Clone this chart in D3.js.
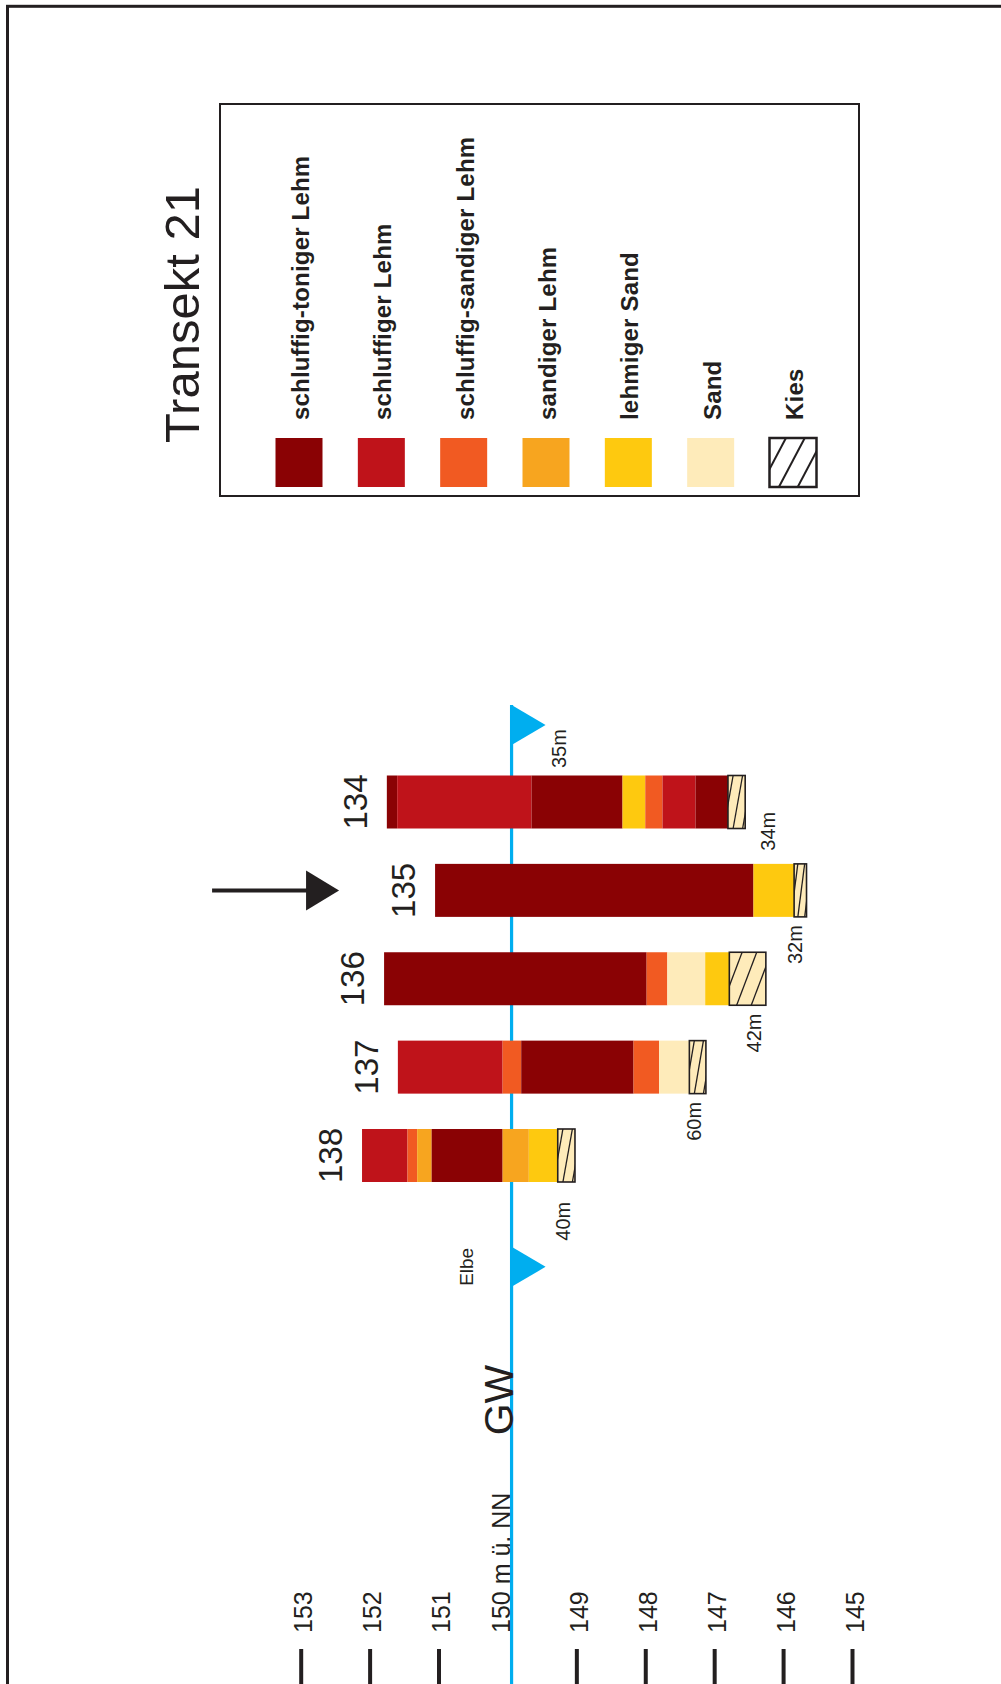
<!DOCTYPE html>
<html><head><meta charset="utf-8">
<script src="https://cdn.jsdelivr.net/npm/d3@7"></script>
<style>html,body{margin:0;padding:0;background:#fff;} svg{display:block;}</style>
</head><body><svg id="chart" width="1001" height="1684"></svg>
<script>
// ---------- data ----------
const title = "Transekt 21";
const soilCodes = ["stL", "sL", "ssL", "sdL", "lS", "S", "G"];
const soilNames = ["schluffig-toniger Lehm", "schluffiger Lehm", "schluffig-sandiger Lehm",
                   "sandiger Lehm", "lehmiger Sand", "Sand", "Kies"];
const soilColors = ["#8A0204", "#BF131A", "#F15A22", "#F7A51F", "#FEC90F", "#FEEBBA", "#FEEBBA"];

const boreholes = ["134", "135", "136", "137", "138"];
const boreholePos = [1, 2, 3, 4, 5];                 // schematic position along transect
const surfaceElev = [151.75, 151.05, 151.79, 151.59, 152.11]; // m ü. NN
const layerCodes = [
  ["stL", "sL", "stL", "lS", "ssL", "sL", "stL", "G"],
  ["stL", "lS", "G"],
  ["stL", "ssL", "S", "lS", "G"],
  ["sL", "ssL", "stL", "ssL", "S", "G"],
  ["sL", "ssL", "sdL", "stL", "sdL", "lS", "G"]
];
const layerBottoms = [                                // depth below surface, m
  [0.15, 2.1, 3.42, 3.75, 4.0, 4.48, 4.95, 5.2],
  [4.62, 5.21, 5.39],
  [3.81, 4.11, 4.66, 5.01, 5.54],
  [1.52, 1.79, 3.42, 3.79, 4.23, 4.47],
  [0.66, 0.8, 1.01, 2.04, 2.42, 2.84, 3.09]
];
const distanceLabels = ["35m", "34m", "32m", "42m", "60m", "40m"];
const gwLevel = 149.94;
const gwFlagPos = 0.13;
const elbePos = 6.26;
const elbeLabel = "Elbe";
const gwLabel = "GW";
const markedBorehole = "135";
const tickValues = [153, 152, 151, 150, 149, 148, 147, 146, 145];
const tickLabels = ["153", "152", "151", "150 m ü. NN", "149", "148", "147", "146", "145"];

// ---------- setup ----------
const ink = "#231F20";
const blue = "#00AEEF";
const font = "'Liberation Sans', Arial, Helvetica, sans-serif";
const svg = d3.select("#chart");
const x = d3.scaleLinear().domain([153, 145]).range([300.7, 852]);
const y = d3.scaleLinear().domain([1, 5]).range([802, 1155.5]);
const barH = 53;
const color = d3.scaleOrdinal().domain(soilCodes).range(soilColors);
const defs = svg.append("defs");

// outer frame
svg.append("rect").attr("x", 7.5).attr("y", 6.3).attr("width", 1200).attr("height", 1900)
  .attr("fill", "none").attr("stroke", ink).attr("stroke-width", 3);

// hatch helper
let clipId = 0;
function hatch(g, rx, ry, w, h, strokeW) {
  const id = "clip" + (clipId++);
  defs.append("clipPath").attr("id", id).append("rect")
    .attr("x", rx).attr("y", ry).attr("width", w).attr("height", h);
  const hg = g.append("g").attr("clip-path", `url(#${id})`);
  const offs = w > 25 ? [-0.2, 0.2, 0.6] : [-0.25, 0.3, 0.85];
  offs.forEach(o => {
    hg.append("line")
      .attr("x1", rx + o * w).attr("y1", ry + h)
      .attr("x2", rx + (o + 0.55) * w).attr("y2", ry)
      .attr("stroke", ink).attr("stroke-width", strokeW);
  });
}

// ---------- legend ----------
const lg = svg.append("g");
lg.append("rect").attr("x", 220).attr("y", 104).attr("width", 639).attr("height", 392)
  .attr("fill", "none").attr("stroke", ink).attr("stroke-width", 2);
lg.append("text").attr("transform", "translate(199,443) rotate(-90)")
  .attr("font-family", font).attr("font-size", 49).attr("fill", ink).text(title);
const swX = d3.scalePoint().domain(soilCodes).range([299, 793]);
const swW = 47, swH = 49;
soilCodes.forEach((c, i) => {
  const cx = swX(c);
  const isG = c === "G";
  lg.append("rect").attr("x", cx - swW / 2).attr("y", 438).attr("width", swW).attr("height", swH)
    .attr("fill", isG ? "#fff" : color(c))
    .attr("stroke", isG ? ink : "none").attr("stroke-width", isG ? 2.5 : 0);
  if (isG) hatch(lg, cx - swW / 2, 438, swW, swH, 2);
  lg.append("text").attr("transform", `translate(${cx + 10},420) rotate(-90)`)
    .attr("font-family", font).attr("font-weight", "bold").attr("font-size", 24)
    .attr("letter-spacing", 0.2).attr("fill", ink).text(soilNames[i]);
});

// ---------- groundwater line & flags ----------
const gx = x(gwLevel);
const flagTopY = y(gwFlagPos), elbeY = y(elbePos);
svg.append("line").attr("x1", gx).attr("x2", gx).attr("y1", flagTopY - 20).attr("y2", 1684)
  .attr("stroke", blue).attr("stroke-width", 3.2);
[flagTopY, elbeY].forEach(fy => {
  svg.append("path").attr("d", `M${gx},${fy - 20}L${gx + 34},${fy}L${gx},${fy + 20}Z`).attr("fill", blue);
});
svg.append("text").attr("transform", `translate(${gx - 39},${elbeY}) rotate(-90)`)
  .attr("text-anchor", "middle").attr("font-family", font).attr("font-size", 19)
  .attr("fill", ink).text(elbeLabel);
svg.append("text").attr("transform", `translate(${gx + 1.5},1400) rotate(-90)`)
  .attr("text-anchor", "middle").attr("font-family", font).attr("font-size", 41)
  .attr("fill", ink).text(gwLabel);

// ---------- boreholes ----------
const bg = svg.append("g");
const ends = [];
boreholes.forEach((b, i) => {
  const cy = y(boreholePos[i]);
  const s = surfaceElev[i];
  let top = 0;
  layerBottoms[i].forEach((bot, j) => {
    const code = layerCodes[i][j];
    const rx = x(s - top), rw = x(s - bot) - x(s - top);
    bg.append("rect").attr("x", rx).attr("y", cy - barH / 2).attr("width", rw).attr("height", barH)
      .attr("fill", color(code))
      .attr("stroke", code === "G" ? ink : "none").attr("stroke-width", code === "G" ? 1.6 : 0);
    if (code === "G") hatch(bg, rx, cy - barH / 2, rw, barH, 1.3);
    top = bot;
  });
  ends.push(x(s - top));
  bg.append("text").attr("transform", `translate(${x(s) - 20},${cy}) rotate(-90)`)
    .attr("text-anchor", "middle").attr("font-family", font).attr("font-size", 33)
    .attr("fill", ink).text(b);
  if (b === markedBorehole) {
    const tip = x(s) - 96;
    bg.append("line").attr("x1", tip - 127).attr("x2", tip - 28).attr("y1", cy).attr("y2", cy)
      .attr("stroke", ink).attr("stroke-width", 4);
    bg.append("path").attr("d", `M${tip - 33},${cy - 20}L${tip},${cy}L${tip - 33},${cy + 20}Z`).attr("fill", ink);
  }
});

// distance labels between stations
const stationPos = [gwFlagPos].concat(boreholePos, [elbePos]);
const stationEnd = [gx + 25].concat(ends, [gx + 34]);
distanceLabels.forEach((t, i) => {
  const mid = (y(stationPos[i]) + y(stationPos[i + 1])) / 2;
  const upper = stationEnd[i], lower = stationEnd[i + 1];
  let cx, cy;
  if (lower > upper) { cx = upper + 22; cy = mid - 15; }
  else { cx = upper - 12; cy = mid + 10; }
  svg.append("text").attr("transform", `translate(${cx + 7.5},${cy}) rotate(-90)`)
    .attr("text-anchor", "middle").attr("font-family", font).attr("font-size", 20)
    .attr("fill", ink).text(t);
});

// ---------- elevation axis ----------
const axis = d3.axisBottom(x).tickValues(tickValues).tickSize(40)
  .tickFormat((d, i) => tickLabels[i]);
const ag = svg.append("g").attr("transform", "translate(0,1649)").call(axis);
ag.select(".domain").remove();
ag.selectAll(".tick line").attr("stroke", ink).attr("stroke-width", 4)
  .filter(d => d === 150).remove();
ag.selectAll(".tick text")
  .attr("font-family", font).attr("font-size", 25).attr("fill", ink)
  .attr("x", 0).attr("y", 0).attr("dy", 0).attr("text-anchor", "start")
  .attr("transform", d => `translate(${d === 150 ? gx - x(150) - 2 : 11},-16) rotate(-90)`);
</script></body></html>
